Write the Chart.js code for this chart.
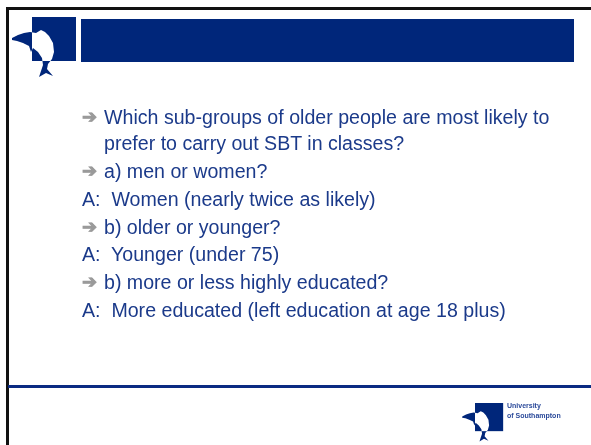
<!DOCTYPE html>
<html>
<head>
<meta charset="utf-8">
<script src="https://cdn.jsdelivr.net/npm/chart.js@4.4.0/dist/chart.umd.min.js"></script>
<style>
  html, body { margin: 0; padding: 0; background: #fff; }
  #wrap { position: relative; width: 591px; height: 445px; overflow: hidden; }
  #slide { position: absolute; left: 0; top: 0; }
  .ln { position: absolute; font-family: "Liberation Sans", Arial, sans-serif; font-size: 19.6px;
        color: #1b3a8a; white-space: pre; line-height: 22px; }
  .arr { position: absolute; font-family: "DejaVu Sans", sans-serif; font-size: 18px; color: #9a9a9a; line-height: 22px;
         -webkit-text-stroke: 0.9px #9a9a9a; }
  .uni { position: absolute; font-family: "Liberation Sans", Arial, sans-serif; font-weight: bold;
         font-size: 7px; color: #2b4a9a; line-height: 9px; }
</style>
</head>
<body>
<div id="wrap">
  <canvas id="slide" width="591" height="445"></canvas>
</div>
<script>
// slide text, one entry per printed line
const lineTexts = [
  "Which sub-groups of older people are most likely to",
  "prefer to carry out SBT in classes?",
  "a) men or women?",
  "A:  Women (nearly twice as likely)",
  "b) older or younger?",
  "A:  Younger (under 75)",
  "b) more or less highly educated?",
  "A:  More educated (left education at age 18 plus)"
];
// "q" = arrow bullet, "c" = continued line, "a" = answer
const lineKinds = ["q", "c", "q", "a", "q", "a", "q", "a"];
const lineY = [117, 143, 171, 199, 227, 254, 282, 310];

const navy = "#00267a";

// rough dolphin outline, in px relative to the logo square's top-left corner
const dolphin = [
  [-20, 21], [-14, 18], [-8, 16], [-2, 15], [4, 16], [9, 13], [13, 15], [17, 19],
  [21, 26], [22, 35], [20, 42], [16, 47], [15, 52], [21, 59], [14, 56], [7, 60],
  [9, 54], [11, 48], [10, 41], [6, 35], [1, 31], [-1, 35], [-3, 29],
  [-9, 26], [-15, 24], [-20, 23]
];

function drawLogo(ctx, x, y, s) {
  ctx.save();
  ctx.fillStyle = navy;
  ctx.beginPath();
  dolphin.forEach((p, i) => {
    const px = x + p[0] * s, py = y + p[1] * s;
    if (i === 0) ctx.moveTo(px, py); else ctx.lineTo(px, py);
  });
  ctx.closePath();
  ctx.fill();
  ctx.globalCompositeOperation = "xor";
  ctx.fillRect(x, y, 44 * s, 44 * s);
  ctx.restore();
}

const slidePlugin = {
  id: "slide",
  beforeDraw(chart) {
    const ctx = chart.ctx;
    ctx.save();
    ctx.fillStyle = "#fff";
    ctx.fillRect(0, 0, 591, 445);
    // frame
    ctx.fillStyle = "#111";
    ctx.fillRect(6, 7, 585, 3);
    ctx.fillRect(6, 7, 3, 438);
    // title bar
    ctx.fillStyle = navy;
    ctx.fillRect(81, 19, 493, 43);
    // footer rule
    ctx.fillStyle = "#0a2a82";
    ctx.fillRect(8, 385, 583, 3);
    ctx.restore();
    // logos on a separate layer so xor does not eat the background
    const off = document.createElement("canvas");
    off.width = 591; off.height = 445;
    const o = off.getContext("2d");
    drawLogo(o, 32, 17, 1);
    drawLogo(o, 475, 403, 0.64);
    ctx.drawImage(off, 0, 0);
  }
};

new Chart(document.getElementById("slide"), {
  type: "bar",
  data: { labels: [], datasets: [] },
  options: {
    responsive: false,
    animation: false,
    events: [],
    plugins: { legend: { display: false }, tooltip: { enabled: false } },
    scales: { x: { display: false }, y: { display: false } }
  },
  plugins: [slidePlugin]
});

const wrap = document.getElementById("wrap");
lineTexts.forEach((t, i) => {
  const kind = lineKinds[i];
  const d = document.createElement("div");
  d.className = "ln";
  d.textContent = t;
  d.style.left = (kind === "a" ? 82 : 104) + "px";
  d.style.top = (lineY[i] - 11) + "px";
  wrap.appendChild(d);
  if (kind === "q") {
    const a = document.createElement("div");
    a.className = "arr";
    a.textContent = "\u2794";
    a.style.left = "82px";
    a.style.top = (lineY[i] - 11) + "px";
    wrap.appendChild(a);
  }
});

const u1 = document.createElement("div");
u1.className = "uni"; u1.textContent = "University";
u1.style.left = "507px"; u1.style.top = "401px";
const u2 = document.createElement("div");
u2.className = "uni"; u2.textContent = "of Southampton";
u2.style.left = "507px"; u2.style.top = "411px";
wrap.appendChild(u1); wrap.appendChild(u2);
</script>
</body>
</html>
